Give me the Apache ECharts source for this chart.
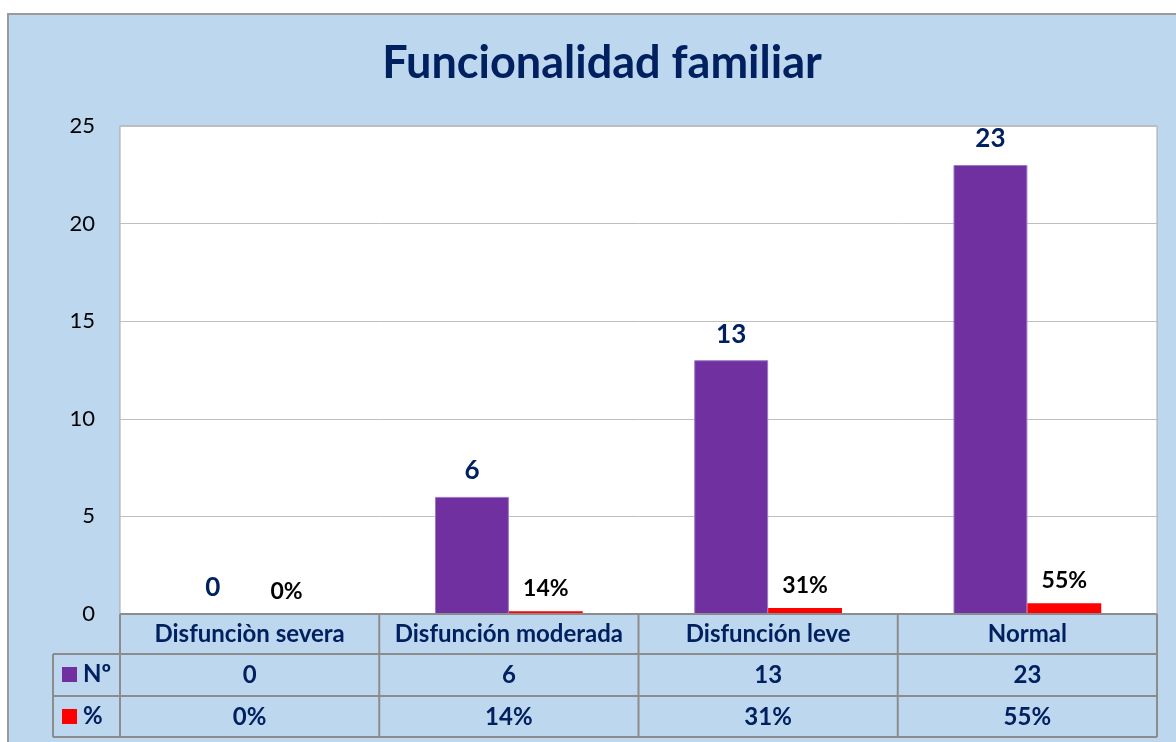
<!DOCTYPE html>
<html><head><meta charset="utf-8">
<script src="https://cdn.jsdelivr.net/npm/echarts@6/dist/echarts.min.js"></script>
<style>
html,body{margin:0;padding:0;background:#fff;}
#wrap{position:relative;width:1176px;height:742px;overflow:hidden;}
#bg{position:absolute;left:7px;top:13px;width:1300px;height:900px;background:#BDD7EE;border-left:2px solid #9a9a9a;border-top:2px solid #9a9a9a;}
#chart{position:absolute;left:0;top:0;width:1176px;height:742px;}
</style></head>
<body><div id="wrap"><div id="bg"></div><div id="chart"></div></div>
<script>
const titleText = 'Funcionalidad familiar';
const categories = ['Disfunciòn severa', 'Disfunción moderada', 'Disfunción leve', 'Normal'];
const countValues = [0, 6, 13, 23];
const pctValues = [0, 0.14, 0.31, 0.55];
const countName = 'Nº';
const pctName = '%';
const yTicks = [0, 5, 10, 15, 20, 25];

const FONT = 'Lato';
const NAVY = '#002060';
const PURPLE = '#7030A0';
const RED = '#FF0000';
const LINE = '#8c8c8c';
const pctFmt = v => Math.round(v * 100) + '%';

const chart = echarts.init(document.getElementById('chart'));
const G = {left: 120, top: 126, right: 19, bottom: 128};
const rowLabel = (m) => ({show: true, interval: 0, color: NAVY, fontFamily: FONT, fontWeight: 'bold', fontSize: 24, margin: m});

chart.setOption({
  backgroundColor: 'transparent',
  animation: false,
  title: {text: titleText, left: 597, textAlign: 'center', top: 36,
    textStyle: {fontFamily: FONT, fontWeight: 'bold', fontSize: 45, color: NAVY}},
  grid: {left: G.left, top: G.top, right: G.right, bottom: G.bottom, show: true,
    backgroundColor: '#fff', borderColor: '#a6a6a6', borderWidth: 1},
  xAxis: [
    {type: 'category', data: categories, position: 'bottom',
     axisLine: {show: false}, axisTick: {show: false}, axisLabel: rowLabel(8)},
    {type: 'category', data: countValues.map(String), position: 'bottom', offset: 40,
     axisLine: {show: false}, axisTick: {show: false}, axisLabel: rowLabel(9)},
    {type: 'category', data: pctValues.map(pctFmt), position: 'bottom', offset: 82,
     axisLine: {show: false}, axisTick: {show: false}, axisLabel: rowLabel(9)}
  ],
  yAxis: {type: 'value', min: yTicks[0], max: yTicks[yTicks.length - 1], interval: 5,
    axisLine: {show: false}, axisTick: {show: false},
    axisLabel: {color: '#000', fontFamily: FONT, fontSize: 22, margin: 25},
    splitLine: {lineStyle: {color: '#bfbfbf', width: 1}}},
  series: [
    {name: countName, type: 'bar', data: countValues, barGap: '0%', barCategoryGap: '43%',
     itemStyle: {color: PURPLE, borderColor: '#9a78c4', borderWidth: 1},
     label: {show: true, position: 'top', distance: 13, color: NAVY, fontFamily: FONT, fontWeight: 'bold', fontSize: 26}},
    {name: pctName, type: 'bar', data: pctValues,
     itemStyle: {color: RED},
     label: {show: true, position: 'top', distance: 11, color: '#000', fontFamily: FONT, fontWeight: 'bold', fontSize: 23,
       formatter: p => pctFmt(p.value)}}
  ]
});

// table frame
const xL = G.left, xR = 1176 - G.right, yB = 742 - G.bottom;
const rows = [yB, yB + 40, yB + 82, yB + 123];
const tableLeft = 53;
const cw = (xR - xL) / categories.length;
const els = [];
const ln = (x1, y1, x2, y2) => els.push({type: 'line', shape: {x1, y1, x2, y2}, style: {stroke: LINE, lineWidth: 2}, z: 10, silent: true});
ln(xL, rows[0], xR, rows[0]);
for (let i = 1; i < rows.length; i++) ln(tableLeft, rows[i], xR, rows[i]);
ln(tableLeft, rows[1], tableLeft, rows[3]);
for (let i = 0; i <= categories.length; i++) ln(xL + i * cw, rows[0], xL + i * cw, rows[3]);
// legend keys
[[countName, PURPLE, rows[1]], [pctName, RED, rows[2]]].forEach(([name, col, y]) => {
  const cy = y + 20;
  els.push({type: 'rect', shape: {x: 62, y: cy - 7, width: 15, height: 15}, style: {fill: col}, z: 10});
  els.push({type: 'text', x: 83, y: cy, style: {text: name, fill: NAVY, font: 'bold 24px ' + FONT, textVerticalAlign: 'middle'}, z: 10});
});
chart.setOption({graphic: {elements: els}});
</script></body></html>
